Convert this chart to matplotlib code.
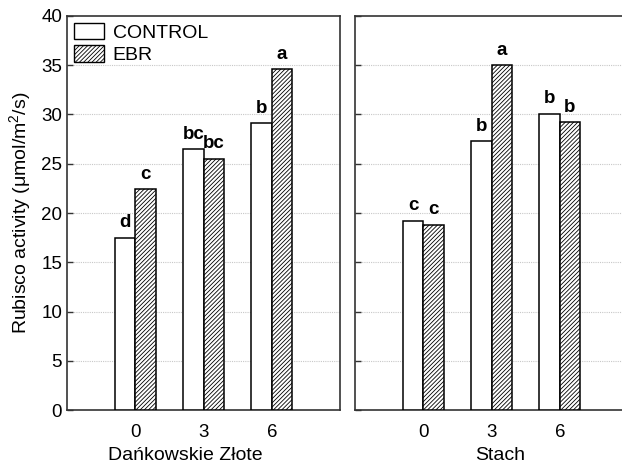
import numpy as np
import matplotlib
matplotlib.use("Agg")
import matplotlib.pyplot as plt
from matplotlib.patches import Patch

plt.rcParams.update({"font.family": "Liberation Sans", "font.size": 13,
                     "mathtext.fontset": "custom",
                     "mathtext.rm": "Liberation Sans",
                     "mathtext.it": "Liberation Sans:italic",
                     "hatch.linewidth": 0.6, "hatch.color": "#333333"})

DAYS = ["0", "3", "6"]
DZ_CONTROL = [17.5, 26.5, 29.1]
DZ_EBR = [22.4, 25.5, 34.6]
DZ_CONTROL_LET = ["d", "bc", "b"]
DZ_EBR_LET = ["c", "bc", "a"]
ST_CONTROL = [19.2, 27.3, 30.1]
ST_EBR = [18.8, 35.0, 29.2]
ST_CONTROL_LET = ["c", "b", "b"]
ST_EBR_LET = ["c", "a", "b"]
CULTIVARS = ["Dańkowskie Złote", "Stach"]

W, H = 622, 465
fig = plt.figure(figsize=(W / 100, H / 100), dpi=100)
ax1 = fig.add_axes([67 / W, (H - 410) / H, 273 / W, 394 / H])
ax2 = fig.add_axes([355 / W, (H - 410) / H, 273 / W, 394 / H])

x = np.arange(len(DAYS))
bw = 0.3
HATCH = "////////"
panels = [(ax1, DZ_CONTROL, DZ_EBR, DZ_CONTROL_LET, DZ_EBR_LET, CULTIVARS[0], 0.432),
          (ax2, ST_CONTROL, ST_EBR, ST_CONTROL_LET, ST_EBR_LET, CULTIVARS[1], 0.531)]
for ax, ctl, ebr, lc, le, name, lx in panels:
    ax.bar(x - bw / 2, ctl, bw, color="white", edgecolor="black", lw=1.1, zorder=3)
    ax.bar(x + bw / 2, ebr, bw, color="white", edgecolor="black", lw=1.1,
           hatch=HATCH, zorder=3)
    for xi, v, t in zip(x - bw / 2, ctl, lc):
        ax.annotate(t, (xi, v), xytext=(0, 7.5), textcoords="offset points",
                    ha="center", va="baseline", fontsize=13.5, fontweight="bold")
    for xi, v, t in zip(x + bw / 2, ebr, le):
        ax.annotate(t, (xi, v), xytext=(0, 7.5), textcoords="offset points",
                    ha="center", va="baseline", fontsize=13.5, fontweight="bold")
    ax.set_xlim(-1, 3)
    ax.set_ylim(0, 40)
    ax.set_yticks(range(0, 41, 5))
    ax.set_xticks(x)
    ax.set_xticklabels(DAYS)
    ax.tick_params(axis="x", length=0, pad=10, labelsize=13.5)
    ax.tick_params(axis="y", direction="in", length=4, width=1, labelsize=13.5,
                   color="#333333")
    for yv in range(5, 40, 5):
        ax.axhline(yv, color="#c8c8c8", lw=0.8, ls=(0, (1, 1)), zorder=1)
    for s in ax.spines.values():
        s.set_linewidth(1.2)
        s.set_color("#333333")
    ax.set_xlabel(name, fontsize=14)
    ax.xaxis.set_label_coords(lx, -0.095)

ax2.tick_params(axis="y", labelleft=False)
ax1.set_ylabel("Rubisco activity (μmol/m$^2$/s)", fontsize=14)
ax1.yaxis.set_label_coords(-0.125, 0.5)

handles = [Patch(facecolor="white", edgecolor="black", lw=1.0),
           Patch(facecolor="white", edgecolor="black", lw=1.0, hatch=HATCH)]
ax1.legend(handles, ["CONTROL", "EBR"], loc="upper left", frameon=False,
           fontsize=14, handlelength=1.55, handleheight=0.9,
           handletextpad=0.45, labelspacing=0.2, borderpad=0,
           borderaxespad=0.35)

fig.savefig("out.png", dpi=100)
